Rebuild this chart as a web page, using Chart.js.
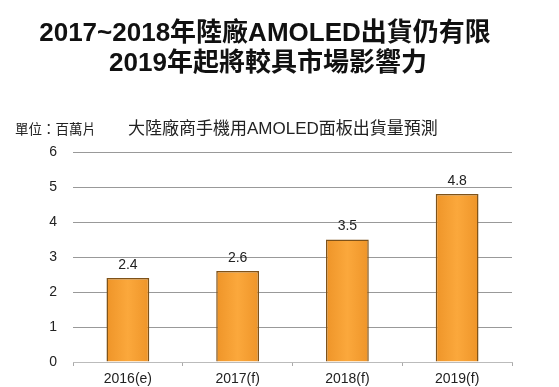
<!DOCTYPE html>
<html>
<head>
    <title>AMOLED Chart</title>
    <script src="https://cdn.jsdelivr.net/npm/chart.js"></script>
    <style>
        body { margin: 0; background: #fff; }
    </style>
</head>
<body>
    <canvas id="amoled-chart" width="559" height="387"></canvas>

    <script>
        const years = ['2016(e)', '2017(f)', '2018(f)', '2019(f)'];
        const shipments = [2.4, 2.6, 3.5, 4.8];
        const titleLines = ['2017~2018年陸廠AMOLED出貨仍有限', '2019年起將較具市場影響力'];
        const unitLabel = '單位：百萬片';
        const subTitle = '大陸廠商手機用AMOLED面板出貨量預測';

        const fontSans = '"Liberation Sans", Arial, "Noto Sans CJK TC", sans-serif';
        const fontCjk = '"Noto Sans CJK TC", sans-serif';

        // titles and value labels drawn by hand
        const textPlugin = {
            id: 'texts',
            afterDraw(chart) {
                const ctx = chart.ctx;
                ctx.save();
                ctx.fillStyle = '#111';
                ctx.textAlign = 'center';
                ctx.textBaseline = 'middle';
                ctx.font = 'bold 26px ' + fontSans;
                ctx.fillText(titleLines[0], 265, 34);
                ctx.fillText(titleLines[1], 268, 64);

                ctx.textAlign = 'left';
                ctx.fillStyle = '#222';
                ctx.font = '13.5px ' + fontCjk;
                ctx.fillText(unitLabel, 15, 129);
                ctx.font = '17px ' + fontSans;
                ctx.fillText(subTitle, 128, 129);

                ctx.textAlign = 'center';
                ctx.textBaseline = 'bottom';
                ctx.font = '14px ' + fontSans;
                ctx.fillStyle = '#222';
                chart.getDatasetMeta(0).data.forEach((bar, i) => {
                    ctx.fillText(shipments[i].toFixed(1), bar.x, bar.y - 6);
                });
                ctx.restore();
            }
        };

        function barFill(context) {
            const chart = context.chart;
            const area = chart.chartArea;
            if (!area) return '#F7A035';
            const x = chart.scales.x.getPixelForValue(context.dataIndex);
            const half = 22;
            const g = chart.ctx.createLinearGradient(x - half, 0, x + half, 0);
            g.addColorStop(0, '#EE9428');
            g.addColorStop(0.5, '#FBA83C');
            g.addColorStop(1, '#EE9428');
            return g;
        }

        new Chart(document.getElementById('amoled-chart').getContext('2d'), {
            type: 'bar',
            data: {
                labels: years,
                datasets: [{
                    data: shipments,
                    backgroundColor: barFill,
                    borderColor: '#7E5219',
                    borderWidth: 1.5,
                    barPercentage: 0.39,
                    categoryPercentage: 1
                }]
            },
            options: {
                responsive: false,
                animation: false,
                layout: { padding: { top: 152, right: 47, left: 0, bottom: 0 } },
                plugins: {
                    legend: { display: false },
                    title: { display: false },
                    tooltip: { enabled: false }
                },
                scales: {
                    x: {
                        grid: {
                            drawOnChartArea: false,
                            color: '#aaa',
                            tickLength: 4,
                            offset: true
                        },
                        border: { color: '#bbb' },
                        ticks: {
                            color: '#222',
                            font: { size: 14, family: fontSans },
                            padding: 5
                        },
                        afterFit(scale) { scale.height = 25; }
                    },
                    y: {
                        min: 0,
                        max: 6,
                        grid: {
                            color: '#999',
                            drawTicks: false
                        },
                        border: { display: false },
                        ticks: {
                            stepSize: 1,
                            color: '#222',
                            font: { size: 14, family: fontSans },
                            padding: 16
                        },
                        afterFit(scale) { scale.width = 73; }
                    }
                }
            },
            plugins: [textPlugin]
        });
    </script>
</body>
</html>
